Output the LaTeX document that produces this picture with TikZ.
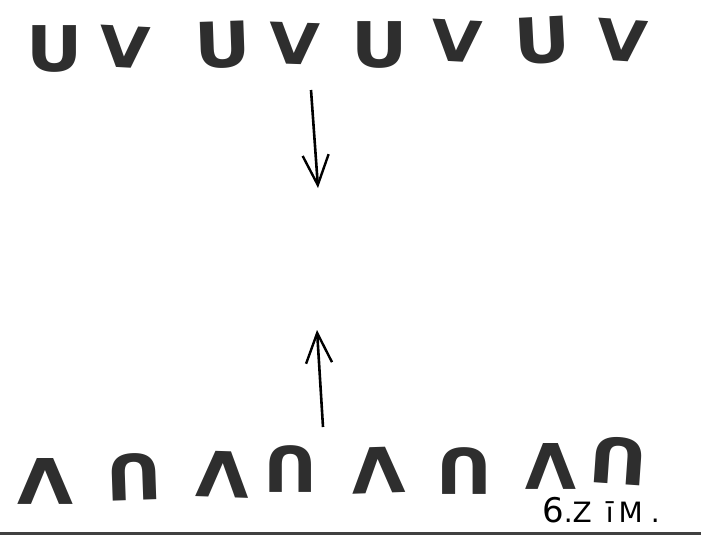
\documentclass[tikz,border=0pt]{standalone}
\usepackage{fontspec}
\usetikzlibrary{arrows.meta}
\newfontfamily\glyphfont{DejaVu Sans}
\newfontfamily\handfont{DejaVu Sans}
\tikzset{
	glyph/.style={inner sep=0pt, text=black!82, font=\glyphfont\bfseries\fontsize{63}{63}\selectfont},
	vglyph/.style={glyph, font=\glyphfont\bfseries\fontsize{57}{57}\selectfont},
	handarrow/.style={line width=2.6pt, -{Straight Barb[length=30pt,width=26pt,line width=2.4pt]}}
}
\begin{document}
\begin{tikzpicture}[x=1pt,y=-1pt]
			\useasboundingbox (0,0) rectangle (701,539);
			\foreach \n/\s/\c/\x/\y/\r/\w in {u1/glyph/U/55/48.5/0/1.1, v1/vglyph/V/125/47.5/-3/1.15, u2/glyph/U/222.5/45/2/1.1, v2/vglyph/V/295/43.5/-2/1.15, u3/glyph/U/380/45/0/1.1, v3/vglyph/V/456.5/41.5/-3/1.15, u4/glyph/U/542/40.5/3/1.1, v4/vglyph/V/622.5/40.5/-4/1.15}
				\node[\s, rotate=\r, xscale=\w] (\n) at (\x,\y) {\c};
			\foreach \n/\c/\x/\y/\r/\w in {a1/V/45.5/481.5/180/1.15, n1/U/134.5/477/182/1.1, a2/V/222.5/475/178/1.1, n2/U/291/469.5/180/1.05, a3/V/378/470/182/1.1, n3/U/464.5/471/180/1.1, a4/V/550.5/466/180/1.05, n4/U/619/461/176/1.15}
				\node[glyph, rotate=\r, xscale=\w] (\n) at (\x,\y) {\c};
			\coordinate (dstart) at (311,90);
			\coordinate (dend) at (318,188);
			\coordinate (ustart) at (323,427);
			\coordinate (uend) at (317,330);
			\draw[handarrow] (dstart) -- (dend);
			\draw[handarrow] (ustart) -- (uend);
			\node[anchor=base west, inner sep=0pt, font=\handfont\fontsize{28}{28}\selectfont] (tag) at (542,522) {{\fontsize{34}{34}\selectfont 6}\kern0pt.\kern0pt Z\kern14pt ī\kern5pt M\kern8pt.};
			\draw[line width=3pt, black!75] (0,533) -- (701,533);
			\end{tikzpicture}
\end{document}
